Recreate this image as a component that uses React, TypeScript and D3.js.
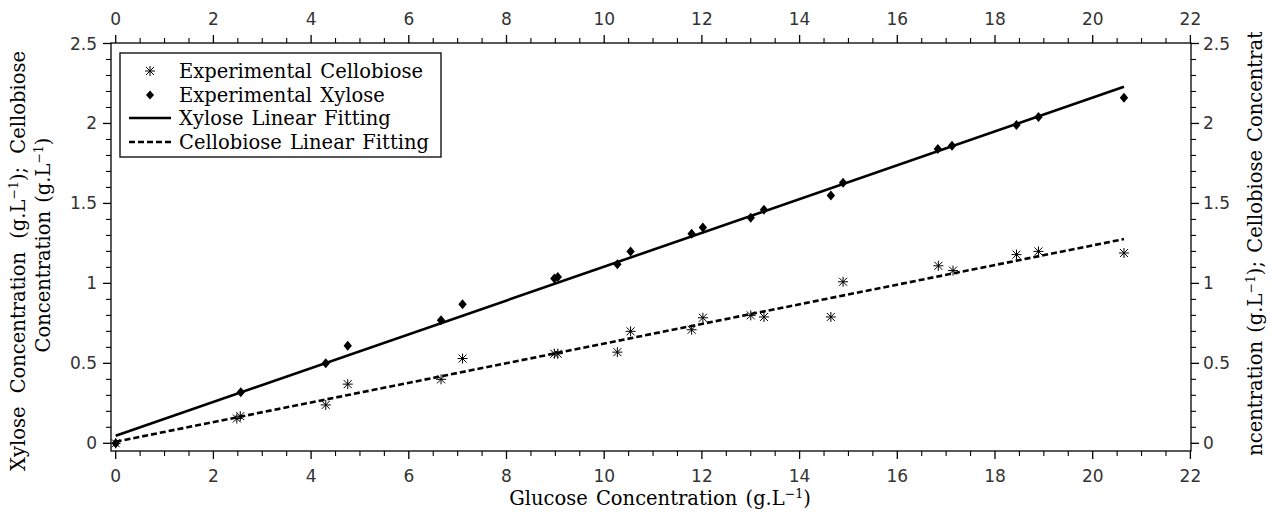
import React from "react";
import * as d3 from "d3";

// ---- data ----
const xyloseGlucose = [0, 2.56, 4.3, 4.75, 6.66, 7.1, 8.98, 9.05, 10.27, 10.54, 11.79, 12.02, 13.0, 13.27, 14.64, 14.89, 16.83, 17.12, 18.44, 18.89, 20.64];
const xyloseValues = [0, 0.32, 0.5, 0.61, 0.77, 0.87, 1.03, 1.04, 1.12, 1.2, 1.31, 1.35, 1.41, 1.46, 1.55, 1.63, 1.84, 1.86, 1.99, 2.04, 2.16];
const cellobioseGlucose = [0, 2.48, 2.55, 4.3, 4.75, 6.66, 7.1, 8.98, 9.05, 10.27, 10.54, 11.79, 12.02, 13.0, 13.27, 14.64, 14.89, 16.84, 17.14, 18.44, 18.89, 20.64];
const cellobioseValues = [0, 0.155, 0.17, 0.24, 0.37, 0.4, 0.53, 0.56, 0.56, 0.57, 0.7, 0.71, 0.785, 0.8, 0.79, 0.79, 1.01, 1.11, 1.08, 1.18, 1.2, 1.19];
const fitX = [0, 20.64];
const xyloseFitY = [0.047, 2.23];
const cellobioseFitY = [0.01, 1.277];
const xMajorTicks = [0, 2, 4, 6, 8, 10, 12, 14, 16, 18, 20, 22];
const yMajorTicks = [0, 0.5, 1, 1.5, 2, 2.5];
const legendLabels = ["Experimental Cellobiose", "Experimental Xylose", "Xylose Linear Fitting", "Cellobiose Linear Fitting"];

const SERIF = "'DejaVu Serif', serif";
const SANS = "'DejaVu Sans', sans-serif";
const TFS = 19.5;

function Unit({ base }: { base: string }) {
  return (
    <>
      {base}
      <tspan fontSize={12.5} dy={-7}>−1</tspan>
      <tspan dy={7}>)</tspan>
    </>
  );
}

export default function App() {
  const x = d3.scaleLinear().domain([0, 22]).range([115.7, 1190.4]);
  const y = d3.scaleLinear().domain([0, 2.5]).range([443.3, 43.5]);
  const left = 111, right = 1191, top = 43, bottom = 451;

  const xMinor = d3.range(0, 22.001, 0.5).filter((v) => Math.abs(v / 2 - Math.round(v / 2)) > 1e-6);
  const yMinor = d3.range(0, 2.5001, 0.1).filter((v) => Math.abs(v / 0.5 - Math.round(v / 0.5)) > 1e-6);

  const line = d3.line<[number, number]>().x((d) => x(d[0])).y((d) => y(d[1]));
  const xyFit: [number, number][] = fitX.map((v, i) => [v, xyloseFitY[i]]);
  const ceFit: [number, number][] = fitX.map((v, i) => [v, cellobioseFitY[i]]);

  const diamond = (cx: number, cy: number, w = 4.2, h = 5) =>
    `M${cx},${cy - h}L${cx + w},${cy}L${cx},${cy + h}L${cx - w},${cy}Z`;
  const star = (cx: number, cy: number, r = 5) => {
    const a = r * 0.8;
    return `M${cx},${cy - r}L${cx},${cy + r}M${cx - a},${cy - a}L${cx + a},${cy + a}M${cx - a},${cy + a}L${cx + a},${cy - a}M${cx - r},${cy}L${cx + r},${cy}`;
  };
  const fmt = (v: number) => String(v);

  const legendRows = [71, 95, 118, 142];
  const textStyle = { wordSpacing: "2px" };

  return (
    <svg width={1271} height={520} style={{ position: "absolute", left: 0, top: 0, background: "#fff" }}>
      <defs>
        <clipPath id="rtclip">
          <rect x={1200} y={32} width={80} height={423} />
        </clipPath>
        <clipPath id="plotclip">
          <rect x={left} y={top} width={right - left} height={bottom - top} />
        </clipPath>
      </defs>
      <rect width={1271} height={520} fill="#fff" />

      {/* frame */}
      <rect x={left} y={top} width={right - left} height={bottom - top} fill="none" stroke="#000" strokeWidth={1.3} />

      {/* bottom & top ticks */}
      {xMajorTicks.map((v) => (
        <g key={"xm" + v}>
          <line x1={x(v)} x2={x(v)} y1={bottom} y2={bottom + 8} stroke="#000" strokeWidth={1.3} />
          <line x1={x(v)} x2={x(v)} y1={top} y2={top - 8} stroke="#000" strokeWidth={1.3} />
          <text x={x(v)} y={482} textAnchor="middle" fontFamily={SANS} fontSize={17} fill="#333">{fmt(v)}</text>
          <text x={x(v)} y={25} textAnchor="middle" fontFamily={SANS} fontSize={17} fill="#333">{fmt(v)}</text>
        </g>
      ))}
      {xMinor.map((v) => (
        <g key={"xn" + v}>
          <line x1={x(v)} x2={x(v)} y1={bottom} y2={bottom + 5} stroke="#000" strokeWidth={1.1} />
          <line x1={x(v)} x2={x(v)} y1={top} y2={top - 5} stroke="#000" strokeWidth={1.1} />
        </g>
      ))}

      {/* left & right ticks */}
      {yMajorTicks.map((v) => (
        <g key={"ym" + v}>
          <line x1={left} x2={left - 8} y1={y(v)} y2={y(v)} stroke="#000" strokeWidth={1.3} />
          <line x1={right} x2={right + 8} y1={y(v)} y2={y(v)} stroke="#000" strokeWidth={1.3} />
          <text x={97} y={y(v) + 6} textAnchor="end" fontFamily={SANS} fontSize={17} fill="#333">{fmt(v)}</text>
          <text x={1203} y={y(v) + 6} textAnchor="start" fontFamily={SANS} fontSize={17} fill="#333">{fmt(v)}</text>
        </g>
      ))}
      {yMinor.map((v) => (
        <g key={"yn" + v}>
          <line x1={left} x2={left - 5} y1={y(v)} y2={y(v)} stroke="#000" strokeWidth={1.1} />
          <line x1={right} x2={right + 5} y1={y(v)} y2={y(v)} stroke="#000" strokeWidth={1.1} />
        </g>
      ))}

      {/* fit lines */}
      <g clipPath="url(#plotclip)">
        <path d={line(xyFit) || ""} fill="none" stroke="#000" strokeWidth={2.6} />
        <path d={line(ceFit) || ""} fill="none" stroke="#000" strokeWidth={2.6} strokeDasharray="6,3" />
      </g>

      {/* markers */}
      {xyloseGlucose.map((g, i) => (
        <path key={"xd" + i} d={diamond(x(g), y(xyloseValues[i]))} fill="#000" />
      ))}
      {cellobioseGlucose.map((g, i) => (
        <path key={"cs" + i} d={star(x(g), y(cellobioseValues[i]))} fill="none" stroke="#000" strokeWidth={1} />
      ))}

      {/* legend */}
      <rect x={120} y={53} width={321} height={104} fill="#fff" stroke="#000" strokeWidth={1.3} />
      <path d={star(150, legendRows[0])} stroke="#000" strokeWidth={1} fill="none" />
      <path d={diamond(150, legendRows[1], 4, 4.5)} fill="#000" />
      <line x1={129} x2={171} y1={legendRows[2]} y2={legendRows[2]} stroke="#000" strokeWidth={2.6} />
      <line x1={129} x2={171} y1={legendRows[3]} y2={legendRows[3]} stroke="#000" strokeWidth={2.6} strokeDasharray="6,3" />
      {legendLabels.map((t, i) => (
        <text key={t} x={179} y={legendRows[i] + 7} fontFamily={SERIF} fontSize={TFS} fill="#000" style={textStyle}>{t}</text>
      ))}

      {/* axis titles */}
      <text x={660} y={505} textAnchor="middle" fontFamily={SERIF} fontSize={TFS} fill="#000" style={textStyle}>
        <Unit base="Glucose Concentration (g.L" />
      </text>
      <text transform="translate(25,261) rotate(-90)" textAnchor="middle" fontFamily={SERIF} fontSize={TFS} fill="#000" style={{ wordSpacing: "7px" }}>
        <Unit base="Xylose Concentration (g.L" />
        <tspan>; Cellobiose</tspan>
      </text>
      <text transform="translate(50,245) rotate(-90)" textAnchor="middle" fontFamily={SERIF} fontSize={TFS} fill="#000" style={textStyle}>
        <Unit base="Concentration (g.L" />
      </text>
      <g clipPath="url(#rtclip)">
        <text transform="translate(1262,241) rotate(-90)" textAnchor="middle" fontFamily={SERIF} fontSize={TFS} fill="#000" style={textStyle}>
          <Unit base="Xylose Concentration (g.L" />
          <tspan>; Cellobiose </tspan>
          <Unit base="Concentration (g.L" />
        </text>
      </g>
    </svg>
  );
}
